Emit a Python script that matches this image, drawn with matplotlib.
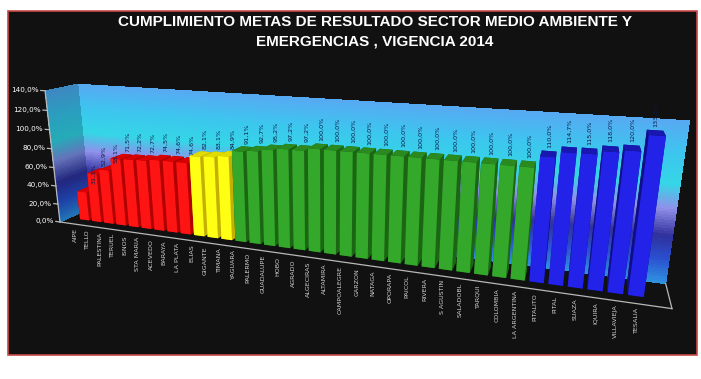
import numpy as np
import matplotlib
matplotlib.use("Agg")
import matplotlib.pyplot as plt
from matplotlib.colors import LinearSegmentedColormap
from matplotlib.patches import Rectangle
from mpl_toolkits.mplot3d import proj3d

# Municipios y porcentaje de cumplimiento de metas de resultado (vigencia 2014)
municipios = [
    "AIPE", "TELLO", "PALESTINA", "TERUEL", "ISNOS", "STA MARIA", "ACEVEDO",
    "BARAYA", "LA PLATA",
    "ELIAS", "GIGANTE", "TIMANA",
    "YAGUARA", "PALERMO", "GUADALUPE", "HOBO", "AGRADO", "ALGECIRAS",
    "ALTAMIRA", "CAMPOALEGRE", "GARZON", "NATAGA", "OPORAPA", "PAICOL",
    "RIVERA", "S AGUSTIN", "SALADOBL", "TARQUI", "COLOMBIA", "LA ARGENTINA",
    "PITALITO", "PITAL", "SUAZA", "IQUIRA", "VILLAVIEJA", "TESALIA",
]
cumplimiento = [
    31.3, 52.9, 58.1, 71.5, 72.2, 72.7, 74.5, 74.6, 74.6,
    82.1, 83.1, 84.9,
    91.1, 92.7, 95.2, 97.2, 97.2, 100.0, 100.0, 100.0, 100.0, 100.0,
    100.0, 100.0, 100.0, 100.0, 100.0, 100.0, 100.0, 100.0,
    110.0, 114.7, 115.0, 118.0, 120.0, 133.3,
]
ticks_pct = [0, 20, 40, 60, 80, 100, 120, 140]

titulo = "CUMPLIMIENTO METAS DE RESULTADO SECTOR MEDIO AMBIENTE Y\nEMERGENCIAS , VIGENCIA 2014"


def pct(v):
    return f"{v:.1f}%".replace(".", ",")


# semaforo por rango de cumplimiento: (frente, lateral, techo)
def bar_colors(v):
    if v < 80:
        return ("#ff1414", "#b00000", "#d80000")
    if v < 90:
        return ("#ffff14", "#c4b000", "#e0dc00")
    if v <= 100:
        return ("#34a82a", "#1a6612", "#2a8a20")
    return ("#2222e8", "#0e0e88", "#1818b0")


W, H, DPI = 701, 379, 100
n = len(cumplimiento)
xs = np.arange(n)
bw, bd, y0 = 0.76, 0.42, 0.3
xmin, xmax = -0.9, n + 1.0
zmax = 140

fig = plt.figure(figsize=(W / DPI, H / DPI), dpi=DPI, facecolor="white")
fig.patches.append(Rectangle((8 / W, 1 - 355 / H), 689 / W, 344 / H,
                             transform=fig.transFigure, facecolor="#111111",
                             edgecolor="#c84848", linewidth=1.2, zorder=-5))

fig.text(0.535, 0.96, titulo, ha="center", va="top", color="white",
         fontsize=11, fontweight="bold", family="Liberation Sans",
         linespacing=1.45, zorder=5)

side = H / W
ax = fig.add_axes([0.5 - side / 2, 0.0, side, 1.0], projection="3d")
ax.set_axis_off()
ax.patch.set_visible(False)
ax.computed_zorder = False
ax.set_proj_type("persp", focal_length=0.2)
ax.view_init(elev=16, azim=-70)
ax.set_box_aspect((12, 1.0, 2.85), zoom=1.0)
ax.set_xlim(xmin, xmax)
ax.set_ylim(0, 1)
ax.set_zlim(0, zmax)

# paredes con degradado
wall_cmap = LinearSegmentedColormap.from_list("pared", [
    (0.00, "#2f90e0"), (0.15, "#2a50d0"), (0.30, "#30309c"),
    (0.47, "#9090ea"), (0.62, "#34d6e6"), (0.80, "#3cc6ee"), (1.00, "#58a8f2")])
zz = np.linspace(0, zmax, 60)
XX, ZZ = np.meshgrid(np.linspace(xmin, xmax, 2), zz)
ax.plot_surface(XX, np.ones_like(XX), ZZ, facecolors=wall_cmap(ZZ / zmax),
                shade=False, linewidth=0, antialiased=False, zorder=0,
                rstride=1, cstride=1)
YY, ZZ2 = np.meshgrid(np.linspace(0, 1, 2), zz)
ax.plot_surface(np.full_like(YY, xmin), YY, ZZ2,
                facecolors=wall_cmap(ZZ2 / zmax) * [0.7, 0.8, 0.8, 1],
                shade=False, linewidth=0, antialiased=False, zorder=0,
                rstride=1, cstride=1)

# barras 3D: caras en orden -z, +z, -y, +y, -x, +x
face_cols = []
for v in cumplimiento:
    front, lat, top = bar_colors(v)
    face_cols += [lat, top, front, lat, lat, lat]
ax.bar3d(xs, np.full(n, y0), np.zeros(n), bw, bd, cumplimiento,
         color=face_cols, shade=False, zorder=2)

# ejes: borde frontal del piso, borde derecho y eje vertical
edge = dict(color="#b8b8b8", linewidth=0.9, zorder=1)
ax.plot([xmin, xmax], [0, 0], [0, 0], **edge)
ax.plot([xmax, xmax], [0, 1], [0, 0], **edge)
ax.plot([xmin, xmin], [0, 0], [0, zmax], **edge)
for t in ticks_pct:
    ax.plot([xmin - 0.35, xmin], [0, 0], [t, t], **edge)

for c in ax.collections:
    c.set_clip_on(False)
for ln in ax.lines:
    ln.set_clip_on(False)


def to_px(x, y, z):
    x2, y2, _ = proj3d.proj_transform(np.atleast_1d(x), np.atleast_1d(y),
                                      np.atleast_1d(z), ax.get_proj())
    return ax.transData.transform(np.column_stack([x2, y2]))


# ajustar la posicion del eje para que el piso ocupe el ancho del panel
fig.canvas.draw()
A = to_px(xmin, 0, 0)[0]
B = to_px(xmax, 0, 0)[0]
tA = np.array([60.0, H - 222.0])
tB = np.array([672.0, H - 312.0])
k = (tB[0] - tA[0]) / (B[0] - A[0])
bb = ax.get_position().transformed(fig.transFigure)
org = tA + k * (np.array([bb.x0, bb.y0]) - A)
size = k * bb.width
ax.set_position([org[0] / W, org[1] / H, size / W, size / H])
fig.canvas.draw()

# rotulos de valor sobre cada barra
for x, v in zip(xs, cumplimiento):
    px, py = to_px(x + bw / 2, y0 + bd, v + 3)[0]
    fig.text(px / W, py / H, pct(v), rotation=90, ha="center", va="bottom",
             fontsize=4.6, color="#0c1a4a")

# nombres de municipios bajo el piso
for x, name in zip(xs, municipios):
    px, py = to_px(x + bw / 2, 0, 0)[0]
    fig.text(px / W, (py - 4) / H, name, rotation=90, ha="center", va="top",
             fontsize=4.6, color="#d0d0d0")

# escala porcentual del eje vertical
for t in ticks_pct:
    px, py = to_px(xmin - 0.35, 0, t)[0]
    fig.text((px - 2) / W, py / H, pct(t), ha="right", va="center",
             fontsize=5.2, color="white")

fig.savefig("out.png", dpi=DPI, facecolor="white")
